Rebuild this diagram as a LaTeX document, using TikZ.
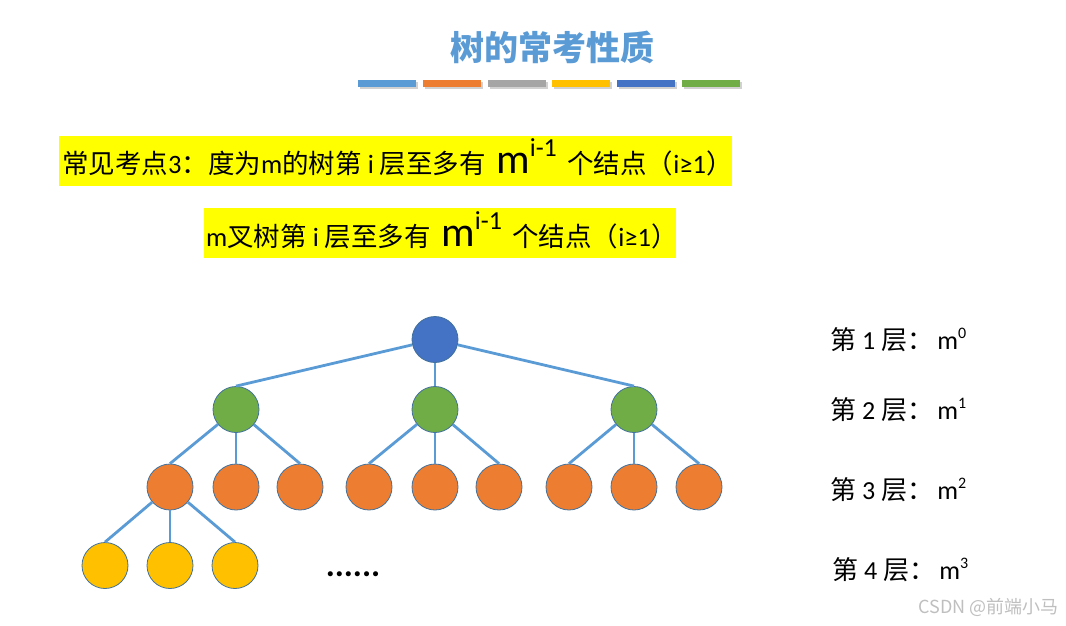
\documentclass[tikz,border=0pt]{standalone}
\usepackage{fontspec}
\usepackage{xcolor}
\setmainfont{Carlito}
\newfontfamily\cjk{Noto Sans CJK SC}
\definecolor{lblue}{RGB}{91,155,213}
\definecolor{dblue}{RGB}{68,114,196}
\definecolor{ocolor}{RGB}{237,125,49}
\definecolor{gcolor}{RGB}{112,173,71}
\definecolor{ycolor}{RGB}{255,192,0}
\definecolor{grcolor}{RGB}{165,165,165}
\definecolor{nline}{RGB}{65,113,156}
\definecolor{hilite}{RGB}{255,255,0}
\tikzset{
  tnode/.style={circle, minimum size=46pt, inner sep=0pt, draw=nline, line width=0.8pt},
  link/.style={draw=lblue, line width=2.8pt},
  bshadow/.style={fill=black!18},
  factext/.style={anchor=base west, inner sep=0pt, font=\fontsize{26.5}{26.5}\selectfont},
  lvtext/.style={anchor=west, inner sep=0pt, font=\fontsize{26}{26}\selectfont},
}
\begin{document}
\begin{tikzpicture}[x=1pt,y=-1pt]
\useasboundingbox (0,0) rectangle (1066,625);

% Title
\node[text=lblue, font=\fontsize{34}{34}\selectfont\cjk\bfseries] (title) at (552,47) {树的常考性质};

%Shape: Rectangle bars
\fill[bshadow] (360,82) rectangle (418,89);
\fill[lblue] (358,80) rectangle (416,87);
\fill[bshadow] (425,82) rectangle (483,89);
\fill[ocolor] (423,80) rectangle (481,87);
\fill[bshadow] (490,82) rectangle (548,89);
\fill[grcolor] (488,80) rectangle (546,87);
\fill[bshadow] (554,82) rectangle (612,89);
\fill[ycolor] (552,80) rectangle (610,87);
\fill[bshadow] (619,82) rectangle (677,89);
\fill[dblue] (617,80) rectangle (675,87);
\fill[bshadow] (684,82) rectangle (742,89);
\fill[gcolor] (682,80) rectangle (740,87);

%Shape: Rectangle highlights
\fill[hilite] (59,136) rectangle (732,186);
\fill[hilite] (204,208) rectangle (676,258);

% Text Node
\node[factext] (fact1) at (62,173)
  {{\cjk 常见考点}3{\cjk ：度为}m{\cjk 的树第} i {\cjk 层至多有}\, {\fontsize{42}{42}\selectfont m\raisebox{0.4em}{\fontsize{26}{26}\selectfont i-1}}\, {\cjk 个结点（}i≥1{\cjk ）}};
% Text Node
\node[factext] (fact2) at (206,246)
  {m{\cjk 叉树第} i {\cjk 层至多有}\, {\fontsize{42}{42}\selectfont m\raisebox{0.4em}{\fontsize{26}{26}\selectfont i-1}}\, {\cjk 个结点（}i≥1{\cjk ）}};

%Tree nodes
\node[tnode, fill=dblue] (r) at (435,339.5) {};
\node[tnode, fill=gcolor] (a) at (236,409.5) {};
\node[tnode, fill=gcolor] (b) at (435,409.5) {};
\node[tnode, fill=gcolor] (c) at (634,409.5) {};
\node[tnode, fill=ocolor] (a1) at (170,487) {};
\node[tnode, fill=ocolor] (a2) at (236,487) {};
\node[tnode, fill=ocolor] (a3) at (300,487) {};
\node[tnode, fill=ocolor] (b1) at (369,487) {};
\node[tnode, fill=ocolor] (b2) at (435,487) {};
\node[tnode, fill=ocolor] (b3) at (499,487) {};
\node[tnode, fill=ocolor] (c1) at (569,487) {};
\node[tnode, fill=ocolor] (c2) at (634,487) {};
\node[tnode, fill=ocolor] (c3) at (699,487) {};
\node[tnode, fill=ycolor] (d1) at (105,565.5) {};
\node[tnode, fill=ycolor] (d2) at (170,565.5) {};
\node[tnode, fill=ycolor] (d3) at (235,565.5) {};

%Straight Lines
\draw[link] (r) -- (a.north);
\draw[link] (r) -- (b);
\draw[link] (r) -- (c.north);
\draw[link] (a) -- (a1.north);
\draw[link] (a) -- (a2);
\draw[link] (a) -- (a3.north);
\draw[link] (b) -- (b1.north);
\draw[link] (b) -- (b2);
\draw[link] (b) -- (b3.north);
\draw[link] (c) -- (c1.north);
\draw[link] (c) -- (c2);
\draw[link] (c) -- (c3.north);
\draw[link] (a1) -- (d1.north);
\draw[link] (a1) -- (d2);
\draw[link] (a1) -- (d3.north);

% Text Node
\node[font=\fontsize{34}{34}\selectfont\bfseries] (more) at (353,574) {......};

% Level labels
\node[lvtext] (lv1) at (830,340)
  {{\cjk 第} 1 {\cjk 层：}\,m\raisebox{0.45em}{\fontsize{16}{16}\selectfont 0}};
\node[lvtext] (lv2) at (830,410)
  {{\cjk 第} 2 {\cjk 层：}\,m\raisebox{0.45em}{\fontsize{16}{16}\selectfont 1}};
\node[lvtext] (lv3) at (830,490)
  {{\cjk 第} 3 {\cjk 层：}\,m\raisebox{0.45em}{\fontsize{16}{16}\selectfont 2}};
\node[lvtext] (lv4) at (832,570)
  {{\cjk 第} 4 {\cjk 层：}\,m\raisebox{0.45em}{\fontsize{16}{16}\selectfont 3}};

% Watermark
\node[anchor=east, text=black!25, font=\fontsize{18}{18}\selectfont\cjk] (mark) at (1062,607) {CSDN @前端小马};
\end{tikzpicture}
\end{document}
